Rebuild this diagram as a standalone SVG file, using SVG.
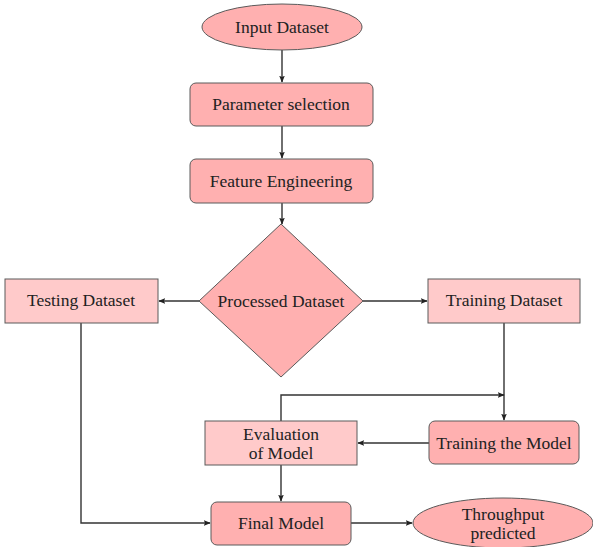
<svg xmlns="http://www.w3.org/2000/svg" width="593" height="547" viewBox="0 0 593 547">
<style>
.dark{fill:#ffb0b0;stroke:#5a5a5a;stroke-width:1}
.light{fill:#ffcaca;stroke:#5a5a5a;stroke-width:1}
.t{font-family:"Liberation Serif","DejaVu Serif",serif;font-size:17.5px;fill:#222;text-anchor:middle;dominant-baseline:central}
.c{fill:none;stroke:#333;stroke-width:1.4}
</style>
<defs>
<marker id="a" viewBox="0 0 10 10" refX="9" refY="5" markerWidth="7" markerHeight="7" markerUnits="userSpaceOnUse" orient="auto">
<path d="M0,1 L10,5 L0,9 L2,5 Z" fill="#222"/>
</marker>
</defs>
<rect width="593" height="547" fill="#fff"/>
<g id="connectors">
<path class="c" d="M282,50 V82" marker-end="url(#a)"/>
<path class="c" d="M282,126 V158" marker-end="url(#a)"/>
<path class="c" d="M282,203 V224" marker-end="url(#a)"/>
<path class="c" d="M199,301 H159" marker-end="url(#a)"/>
<path class="c" d="M363,301 H427" marker-end="url(#a)"/>
<path class="c" d="M504,323 V420" marker-end="url(#a)"/>
<path class="c" d="M281,421 V395 H504" marker-end="url(#a)"/>
<path class="c" d="M429,443 H358" marker-end="url(#a)"/>
<path class="c" d="M281,465 V501" marker-end="url(#a)"/>
<path class="c" d="M81,323 V523 H210" marker-end="url(#a)"/>
<path class="c" d="M351,523 H412" marker-end="url(#a)"/>
</g>
<g id="input">
<ellipse class="dark" cx="282" cy="27" rx="80" ry="23"/>
<text class="t" x="282" y="27">Input Dataset</text>
</g>
<g id="param">
<rect class="dark" x="190" y="83" width="183" height="43" rx="6"/>
<text class="t" x="281" y="104">Parameter selection</text>
</g>
<g id="feature">
<rect class="dark" x="190" y="159" width="183" height="44" rx="6"/>
<text class="t" x="281" y="181">Feature Engineering</text>
</g>
<g id="processed">
<polygon class="dark" points="281,224 363,301 281,377 199,301"/>
<text class="t" x="281" y="301">Processed Dataset</text>
</g>
<g id="testing">
<rect class="light" x="5" y="279" width="153" height="44"/>
<text class="t" x="81" y="300">Testing Dataset</text>
</g>
<g id="training">
<rect class="light" x="428" y="279" width="152" height="44"/>
<text class="t" x="504" y="300">Training Dataset</text>
</g>
<g id="trainmodel">
<rect class="dark" x="429" y="421" width="150" height="43" rx="6"/>
<text class="t" x="504" y="443">Training the Model</text>
</g>
<g id="eval">
<rect class="light" x="205" y="421" width="152" height="44"/>
<text class="t" x="281" y="434">Evaluation</text>
<text class="t" x="281" y="453">of Model</text>
</g>
<g id="final">
<rect class="dark" x="211" y="502" width="140" height="43" rx="6"/>
<text class="t" x="281" y="523">Final Model</text>
</g>
<g id="throughput">
<ellipse class="dark" cx="503" cy="523" rx="90" ry="25"/>
<text class="t" x="503" y="514">Throughput</text>
<text class="t" x="503" y="533">predicted</text>
</g>
</svg>
